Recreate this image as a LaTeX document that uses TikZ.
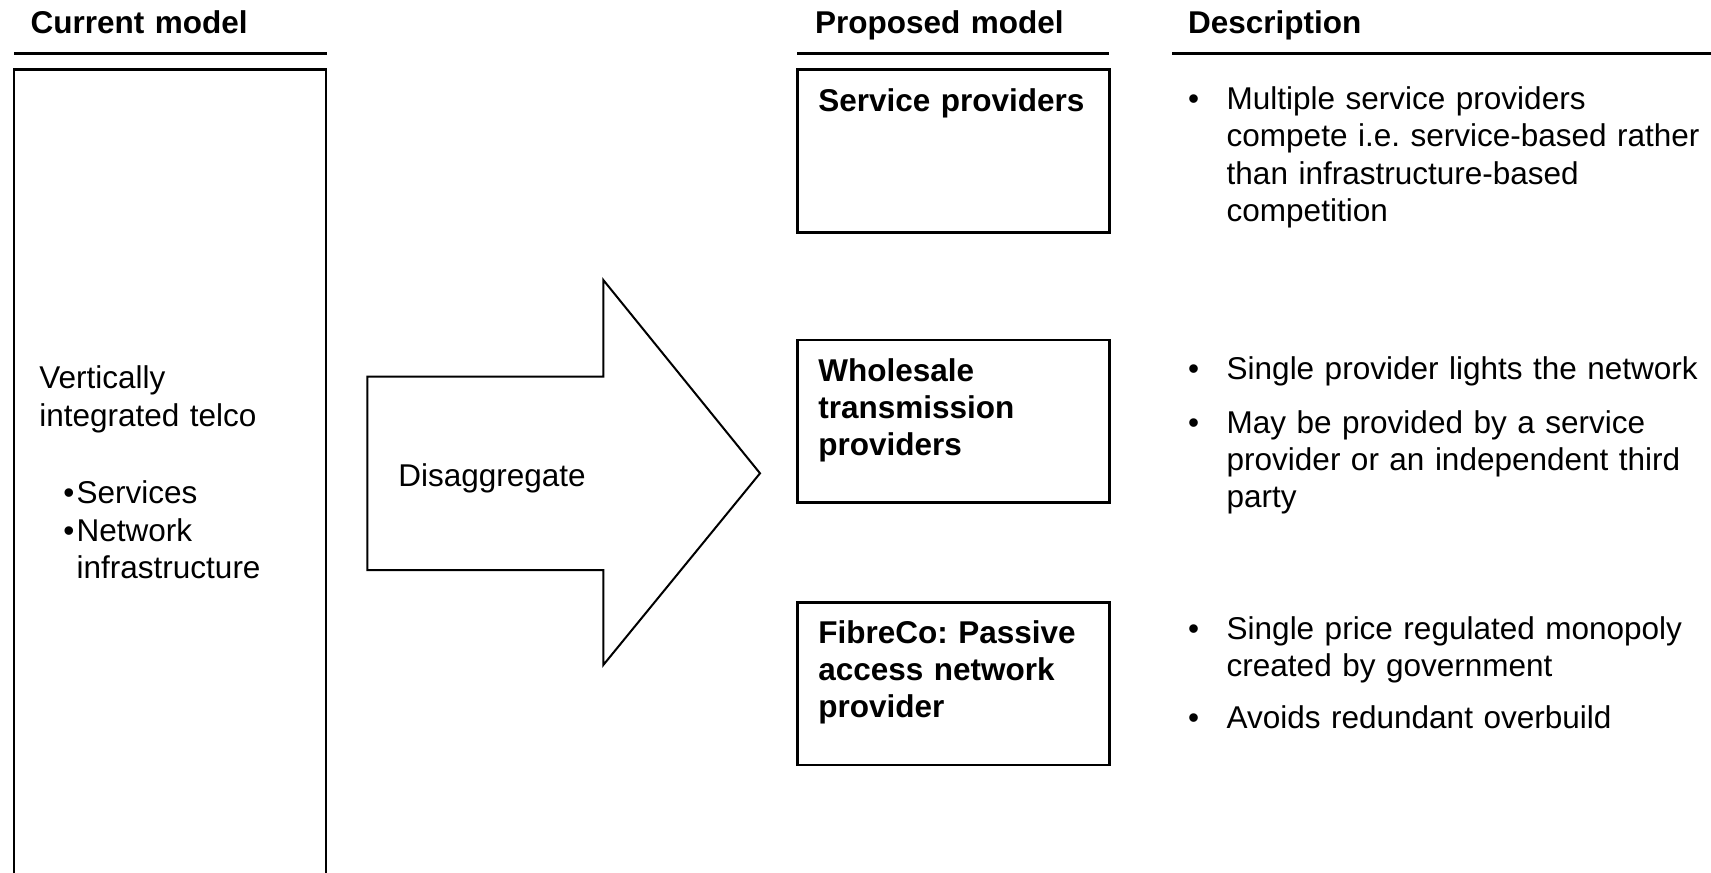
\documentclass[tikz,border=0pt]{standalone}
\usepackage{fontspec}
\setmainfont{Liberation Sans}
\frenchspacing
\begin{document}
\begin{tikzpicture}[x=0.5pt,y=-0.5pt,
  txt/.style={inner sep=0pt, outer sep=0pt, anchor=base west, align=left,
    text width=260pt, font=\fontsize{15.75}{18.5}\selectfont},
  head/.style={txt, font=\fontsize{15.75}{18.5}\selectfont\bfseries},
  bul/.style={inner sep=0pt, outer sep=0pt, anchor=base west,
    font=\fontsize{15.75}{18.5}\selectfont},
  layer/.style={draw, line width=1.35pt, inner sep=0pt, outer sep=0pt,
    anchor=north west, minimum width=156pt},
  rulebar/.style={line width=1.5pt},
  bigarrow/.style={draw, line width=1pt, line join=miter}]

\useasboundingbox (0,0) rectangle (1711,872);
\clip (0,0) rectangle (1711,872);

% column headings and their rules
\node[head] (hcur)  at (30.6,33.3) {Current model};
\node[head] (hprop) at (815,33.3)  {Proposed model};
\node[head] (hdesc) at (1188,33.3) {Description};
\draw[rulebar] (14,53.7) -- (327,53.7);
\draw[rulebar] (797.3,53.7) -- (1109.3,53.7);
\draw[rulebar] (1172,53.7) -- (1711,53.7);

% current model: one tall box running off the bottom edge
\node[layer, minimum height=420pt] (current) at (14,69.3) {};
\node[txt, font=\fontsize{15.75}{19.2}\selectfont] (curtxt) at (39.3,388.3)
  {Vertically\\integrated telco};
\node[bul] (cb1) at (63.3,503.3) {\textbullet};
\node[txt] (cs1) at (76.7,503.3) {Services};
\node[bul] (cb2) at (63.3,541.7) {\textbullet};
\node[txt] (cs2) at (76.7,541.7) {Network\\infrastructure};

% block arrow
\draw[bigarrow] (367.3,376.7) -- (603.3,376.7) -- (603.3,280) -- (760,473.3)
  -- (603.3,665) -- (603.3,570) -- (367.3,570) -- cycle;
\node[txt] (dis) at (398.3,486.7) {Disaggregate};

% proposed layers
\node[layer, minimum height=81.5pt] (sp) at (797.3,69.3) {};
\node[head] (sptxt) at (818.3,111.7) {Service providers};
\node[layer, minimum height=81.15pt] (wt) at (797.3,340) {};
\node[head] (wttxt) at (818.3,381.7) {Wholesale\\transmission\\providers};
\node[layer, minimum height=81.15pt] (fc) at (797.3,602.7) {};
\node[head] (fctxt) at (818.3,643.3) {FibreCo: Passive\\access network\\provider};

% descriptions
\node[bul] (db1) at (1188,110) {\textbullet};
\node[txt] (dt1) at (1226.7,110)
  {Multiple service providers\\compete i.e. service-based rather\\than infrastructure-based\\competition};
\node[bul] (db2) at (1188,379.3) {\textbullet};
\node[txt] (dt2) at (1226.7,379.3) {Single provider lights the network};
\node[bul] (db3) at (1188,433.3) {\textbullet};
\node[txt] (dt3) at (1226.7,433.3)
  {May be provided by a service\\provider or an independent third\\party};
\node[bul] (db4) at (1188,639.3) {\textbullet};
\node[txt] (dt4) at (1226.7,639.3) {Single price regulated monopoly\\created by government};
\node[bul] (db5) at (1188,728.3) {\textbullet};
\node[txt] (dt5) at (1226.7,728.3) {Avoids redundant overbuild};
\end{tikzpicture}
\end{document}
